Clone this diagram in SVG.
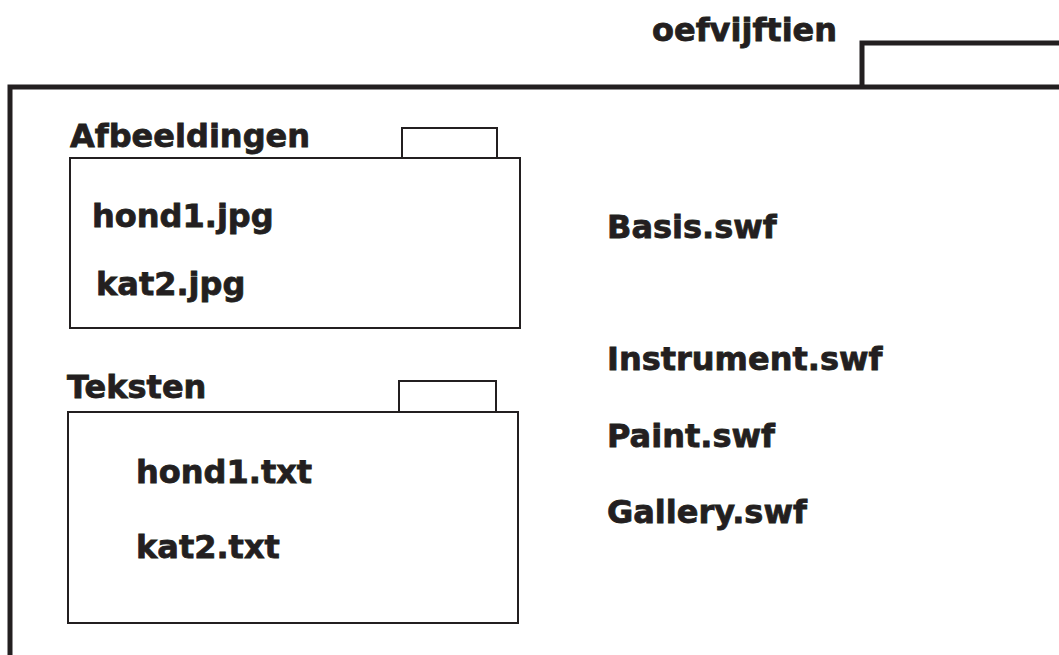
<svg xmlns="http://www.w3.org/2000/svg" width="1059" height="655" viewBox="0 0 1059 655">
  <style>
    .lbl { font-family: "DejaVu Sans", Verdana, sans-serif; font-weight: bold; font-size: 32px; fill: #231f20; stroke: #231f20; stroke-width: 0.8; }
    .frame { fill: none; stroke: #231f20; stroke-width: 5; }
    .box { fill: none; stroke: #231f20; stroke-width: 2; }
  </style>
  <rect width="1059" height="655" fill="#ffffff"/>

  <!-- outer folder: oefvijftien -->
  <g id="oefvijftien">
    <path class="frame" d="M1062 87 H10 V658"/>
    <path class="frame" d="M862 87 V43 H1062" stroke-width="4"/>
    <text class="lbl" x="652" y="41">oefvijftien</text>
  </g>

  <!-- subfolder: Afbeeldingen -->
  <g id="afbeeldingen">
    <rect class="box" x="402" y="128" width="95" height="30"/>
    <rect class="box" x="70" y="158" width="450" height="170"/>
    <text class="lbl" x="70" y="147">Afbeeldingen</text>
    <text class="lbl" x="92" y="227">hond1.jpg</text>
    <text class="lbl" x="96" y="295">kat2.jpg</text>
  </g>

  <!-- subfolder: Teksten -->
  <g id="teksten">
    <rect class="box" x="399" y="381" width="97" height="31"/>
    <rect class="box" x="68" y="412" width="450" height="211"/>
    <text class="lbl" x="67" y="398">Teksten</text>
    <text class="lbl" x="136" y="483">hond1.txt</text>
    <text class="lbl" x="136" y="558">kat2.txt</text>
  </g>

  <!-- loose files -->
  <g id="files">
    <text class="lbl" x="607" y="238">Basis.swf</text>
    <text class="lbl" x="607" y="370">Instrument.swf</text>
    <text class="lbl" x="607" y="447">Paint.swf</text>
    <text class="lbl" x="607" y="523">Gallery.swf</text>
  </g>

  <g id="connectors"/>
</svg>
